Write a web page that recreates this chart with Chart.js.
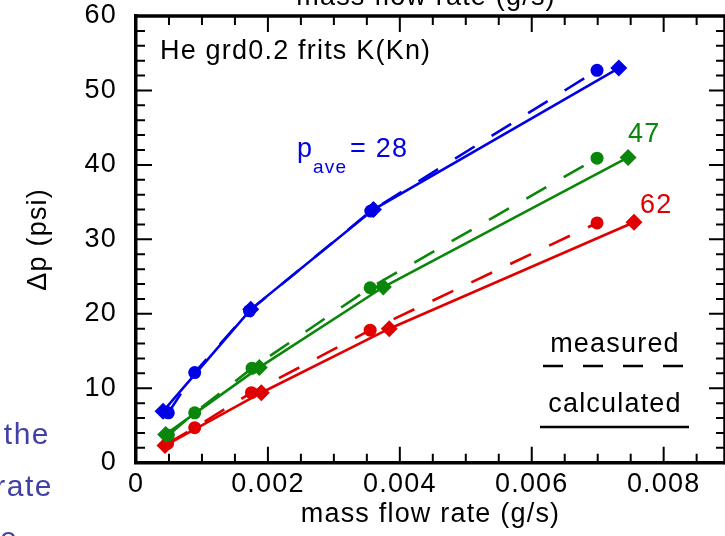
<!DOCTYPE html>
<html>
<head>
<meta charset="utf-8">
<script src="https://cdn.jsdelivr.net/npm/chart.js@4.4.0/dist/chart.umd.min.js"></script>
<style>
  html, body { margin: 0; padding: 0; background: #fff; overflow: hidden; }
  #wrap { position: relative; width: 725px; height: 536px; }
</style>
</head>
<body>
<div id="wrap"><canvas id="chart" width="725" height="536"></canvas></div>
<script>
// tick labels
const xTickLabels = ["0", "0.002", "0.004", "0.006", "0.008"];
const yTickLabels = ["0", "10", "20", "30", "40", "50", "60"];

// p_ave = 28
const flowMeas28 = [0.00049, 0.00089, 0.00172, 0.00356, 0.00699];
const dpMeas28 = [6.7, 12.1, 20.4, 33.8, 52.7];
const flowCalc28 = [0.00041, 0.00174, 0.0036, 0.00732];
const dpCalc28 = [6.9, 20.6, 34.0, 53.0];

// p_ave = 47
const flowMeas47 = [0.00049, 0.00089, 0.00176, 0.00355, 0.00699];
const dpMeas47 = [3.7, 6.7, 12.7, 23.5, 40.9];
const flowCalc47 = [0.00045, 0.00187, 0.00375, 0.00746];
const dpCalc47 = [3.8, 12.8, 23.6, 41.0];

// p_ave = 62
const flowMeas62 = [0.00048, 0.00089, 0.00175, 0.00355, 0.00699];
const dpMeas62 = [2.6, 4.7, 9.4, 17.8, 32.2];
const flowCalc62 = [0.00044, 0.0019, 0.00384, 0.00755];
const dpCalc62 = [2.3, 9.4, 18.0, 32.3];

const BLUE = "#0000e6";
const GREEN = "#0a870a";
const RED = "#e10000";
const FONT = '"Liberation Sans", Arial, sans-serif';
const SPACING = "1.2px";

function pts(xs, ys) {
  return xs.map((v, i) => ({ x: v, y: ys[i] }));
}

function measured(xs, ys, color) {
  return {
    data: pts(xs, ys),
    borderColor: color,
    backgroundColor: color,
    borderWidth: 2.6,
    borderDash: [23, 20],
    pointStyle: "circle",
    pointRadius: 6.5,
    pointBorderWidth: 0,
    tension: 0,
    clip: false
  };
}

function calculated(xs, ys, color) {
  return {
    data: pts(xs, ys),
    borderColor: color,
    backgroundColor: color,
    borderWidth: 2.6,
    pointStyle: "rectRot",
    pointRadius: 8.5,
    pointBorderWidth: 0,
    tension: 0,
    clip: false
  };
}

const frameAndText = {
  id: "frameAndText",
  beforeDraw(chart) {
    chart.ctx.letterSpacing = SPACING;
  },
  afterDraw(chart) {
    const { ctx, chartArea: a, scales: { x, y } } = chart;
    ctx.save();
    ctx.strokeStyle = "#000";
    ctx.lineWidth = 3.5;
    ctx.beginPath();
    ctx.moveTo(a.left - 1.5, a.top);
    ctx.lineTo(a.right, a.top);
    ctx.lineTo(a.right, a.bottom + 1.5);
    ctx.stroke();

    // inward ticks on all four sides
    ctx.lineWidth = 2;
    ctx.beginPath();
    x.ticks.forEach((t) => {
      const k = Math.round(t.value / 0.0005);
      if (Math.abs(k * 0.0005 - t.value) > 1e-9) return;
      const len = k % 4 === 0 ? 16 : 9;
      const px = x.getPixelForValue(t.value);
      ctx.moveTo(px, a.bottom);
      ctx.lineTo(px, a.bottom - len);
      ctx.moveTo(px, a.top);
      ctx.lineTo(px, a.top + len);
    });
    y.ticks.forEach((t) => {
      const len = t.value % 10 === 0 ? 16 : 9;
      const py = y.getPixelForValue(t.value);
      ctx.moveTo(a.left, py);
      ctx.lineTo(a.left + len, py);
      ctx.moveTo(a.right, py);
      ctx.lineTo(a.right - len, py);
    });
    ctx.stroke();

    // texts
    ctx.textBaseline = "alphabetic";
    ctx.font = "27px " + FONT;
    ctx.fillStyle = "#000";
    ctx.textAlign = "center";
    ctx.fillText("mass flow rate (g/s)", 426, 5);
    ctx.textAlign = "left";
    ctx.fillText("He grd0.2 frits K(Kn)", 160, 59);

    ctx.fillStyle = BLUE;
    ctx.fillText("p", 297, 157);
    ctx.fillText("= 28", 350, 157);
    ctx.font = "19px " + FONT;
    ctx.fillText("ave", 313, 173);

    ctx.font = "27px " + FONT;
    ctx.fillStyle = GREEN;
    ctx.fillText("47", 628, 142);
    ctx.fillStyle = RED;
    ctx.fillText("62", 640, 213);

    // key
    ctx.fillStyle = "#000";
    ctx.textAlign = "center";
    ctx.fillText("measured", 615, 352);
    ctx.fillText("calculated", 615, 412);
    ctx.lineWidth = 2.5;
    ctx.setLineDash([20, 20]);
    ctx.beginPath();
    ctx.moveTo(543, 366);
    ctx.lineTo(684, 366);
    ctx.stroke();
    ctx.setLineDash([]);
    ctx.beginPath();
    ctx.moveTo(540, 427);
    ctx.lineTo(689, 427);
    ctx.stroke();

    // slide text bleeding in on the left
    ctx.fillStyle = "#4040a8";
    ctx.font = "30px " + FONT;
    ctx.letterSpacing = "1.5px";
    ctx.textAlign = "right";
    ctx.fillText("the", 50, 444);
    ctx.fillText("rate", 53, 496);
    ctx.textAlign = "left";
    ctx.fillText("e", 0, 548);
    ctx.restore();
  }
};

new Chart(document.getElementById("chart"), {
  type: "line",
  data: {
    datasets: [
      measured(flowMeas28, dpMeas28, BLUE),
      calculated(flowCalc28, dpCalc28, BLUE),
      measured(flowMeas47, dpMeas47, GREEN),
      calculated(flowCalc47, dpCalc47, GREEN),
      measured(flowMeas62, dpMeas62, RED),
      calculated(flowCalc62, dpCalc62, RED)
    ]
  },
  options: {
    responsive: false,
    animation: false,
    devicePixelRatio: 1,
    layout: { autoPadding: false, padding: { top: 16, right: 0, bottom: 0, left: 0 } },
    plugins: { legend: { display: false }, tooltip: { enabled: false } },
    scales: {
      x: {
        type: "linear",
        min: 0,
        max: 0.00893,
        afterFit: (s) => {
          s.height = 73.3;
          s.paddingLeft = 0;
          s.paddingRight = 0;
        },
        ticks: {
          stepSize: 0.0005,
          includeBounds: false,
          autoSkip: false,
          maxRotation: 0,
          padding: 6,
          color: "#000",
          font: { family: FONT, size: 27 },
          callback: (v) => {
            const k = Math.round(v / 0.0005);
            return k % 4 === 0 ? (xTickLabels[k / 4] ?? "") : "";
          }
        },
        grid: { drawOnChartArea: false, drawTicks: false },
        border: { color: "#000", width: 3.5 },
        title: {
          display: true,
          text: "mass flow rate (g/s)",
          color: "#000",
          font: { family: FONT, size: 27 },
          padding: { top: 0, bottom: 5 }
        }
      },
      y: {
        min: 0,
        max: 60,
        afterFit: (s) => {
          s.width = 136;
          s.paddingTop = 0;
          s.paddingBottom = 0;
        },
        ticks: {
          stepSize: 2,
          autoSkip: false,
          padding: 19,
          color: "#000",
          font: { family: FONT, size: 27 },
          callback: (v) => (v % 10 === 0 ? (yTickLabels[v / 10] ?? "") : "")
        },
        grid: { drawOnChartArea: false, drawTicks: false },
        border: { color: "#000", width: 3.5 },
        title: {
          display: true,
          text: "Δp (psi)",
          color: "#000",
          font: { family: FONT, size: 27 },
          padding: { top: 22, bottom: 0 }
        }
      }
    }
  },
  plugins: [frameAndText]
});
</script>
</body>
</html>
